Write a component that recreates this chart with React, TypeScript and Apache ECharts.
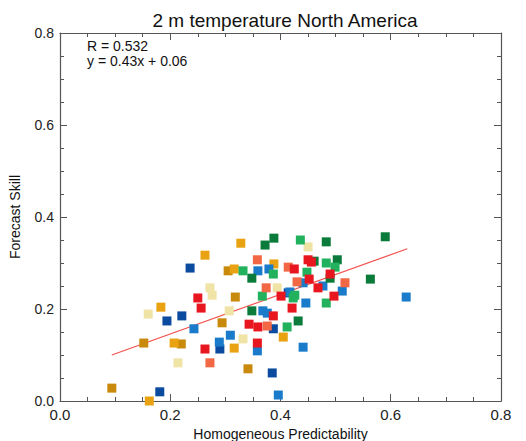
import React, { useEffect, useRef } from "react";
import * as echarts from "echarts";

const titleText = "2 m temperature North America";
const xName = "Homogeneous Predictability";
const yName = "Forecast Skill";
const statLines = ["R = 0.532", "y = 0.43x + 0.06"];

const orange = [[0.328,0.343],[0.263,0.317],[0.316,0.287],[0.183,0.204],[0.207,0.126],[0.316,0.115],[0.162,0.0],[0.388,0.298],[0.405,0.139]];
const darkGold = [[0.305,0.283],[0.318,0.226],[0.294,0.17],[0.152,0.126],[0.22,0.124],[0.094,0.028],[0.341,0.07]];
const cream = [[0.272,0.246],[0.276,0.23],[0.307,0.196],[0.16,0.189],[0.214,0.083],[0.45,0.335],[0.394,0.246],[0.332,0.135]];
const red = [[0.25,0.224],[0.256,0.202],[0.263,0.113],[0.425,0.287],[0.45,0.307],[0.456,0.302],[0.49,0.276],[0.452,0.265],[0.468,0.246],[0.401,0.228],[0.497,0.228],[0.421,0.202],[0.387,0.185],[0.343,0.167],[0.359,0.161],[0.358,0.126]];
const salmon = [[0.272,0.083],[0.358,0.307],[0.414,0.291],[0.43,0.259],[0.517,0.257],[0.374,0.246],[0.376,0.163]];
const darkGreen = [[0.372,0.339],[0.388,0.354],[0.483,0.346],[0.59,0.357],[0.348,0.267],[0.461,0.304],[0.503,0.307],[0.49,0.267],[0.563,0.265],[0.432,0.174],[0.348,0.196]];
const green = [[0.436,0.35],[0.332,0.283],[0.387,0.276],[0.483,0.3],[0.499,0.291],[0.448,0.28],[0.426,0.23],[0.367,0.228],[0.423,0.224],[0.483,0.213],[0.412,0.161]];
const darkBlue = [[0.236,0.289],[0.194,0.174],[0.221,0.185],[0.29,0.113],[0.181,0.02],[0.414,0.235],[0.387,0.157],[0.385,0.061]];
const blue = [[0.243,0.157],[0.309,0.143],[0.289,0.128],[0.359,0.283],[0.379,0.287],[0.441,0.257],[0.477,0.25],[0.417,0.237],[0.512,0.239],[0.446,0.213],[0.368,0.196],[0.376,0.191],[0.358,0.109],[0.441,0.117],[0.396,0.013],[0.628,0.226]];
const fitLine = [[0.094,0.1],[0.63,0.331]];

const groups: [number[][], string][] = [
  [cream, "#efe3a6"],
  [darkGold, "#c98a0c"],
  [orange, "#e9a312"],
  [darkBlue, "#0b4b9f"],
  [blue, "#1a7bca"],
  [darkGreen, "#0b7b3b"],
  [green, "#22b25e"],
  [salmon, "#f26744"],
  [red, "#e8161e"],
];

const FONT = "Liberation Sans, Arial, sans-serif";
const AX = "#555555";

function axisCommon(show: boolean, fontSize: number, margin: number) {
  return {
    type: "value" as const,
    min: 0,
    max: 0.8,
    interval: 0.2,
    axisLine: { show: true, onZero: false, lineStyle: { color: AX, width: 1.2 } },
    axisTick: { show: true, inside: true, length: 7, lineStyle: { color: AX } },
    minorTick: { show: true, splitNumber: 4, length: 4, lineStyle: { color: AX } },
    splitLine: { show: false },
    axisLabel: {
      show,
      color: "#222",
      fontSize,
      margin,
      fontFamily: FONT,
      formatter: (v: number) => v.toFixed(1),
    },
  };
}

export default function App() {
  const ref = useRef<HTMLDivElement>(null);
  useEffect(() => {
    if (!ref.current) return;
    const chart = echarts.init(ref.current, undefined, { renderer: "svg" });
    const series: any[] = groups.map(([d, c]) => ({
      type: "scatter",
      data: d,
      symbol: "rect",
      symbolSize: 9,
      itemStyle: { color: c, opacity: 1 },
      xAxisIndex: 0,
      yAxisIndex: 0,
    }));
    series.unshift({
      type: "line",
      data: fitLine,
      showSymbol: false,
      lineStyle: { color: "#f2524e", width: 1.2 },
      xAxisIndex: 0,
      yAxisIndex: 0,
      z: 1,
    });
    chart.setOption({
      animation: false,
      backgroundColor: "#ffffff",
      title: {
        text: titleText,
        left: 280,
        top: 6,
        textAlign: "center",
        textStyle: { fontSize: 19, fontWeight: "normal", color: "#111", fontFamily: FONT },
      },
      grid: { left: 60, right: 25, top: 33, bottom: 40, containLabel: false, outerBoundsMode: "none" },
      xAxis: [
        {
          ...axisCommon(true, 15, 6),
          position: "bottom",
          name: xName,
          nameLocation: "middle",
          nameGap: 22,
          nameTextStyle: { fontSize: 14, color: "#111", fontFamily: FONT },
        },
        { ...axisCommon(false, 15, 6), position: "top" },
      ],
      yAxis: [
        {
          ...axisCommon(true, 14, 6),
          position: "left",
          name: yName,
          nameLocation: "middle",
          nameGap: 38,
          nameTextStyle: { fontSize: 14, color: "#111", fontFamily: FONT },
        },
        { ...axisCommon(false, 14, 6), position: "right" },
      ],
      graphic: [
        {
          type: "text",
          left: 87,
          top: 38,
          style: {
            text: statLines.join("\n"),
            fontSize: 14,
            lineHeight: 15,
            fontFamily: FONT,
            fill: "#111",
          },
        },
      ],
      series,
    });
    return () => chart.dispose();
  }, []);
  return (
    <div
      ref={ref}
      style={{ position: "fixed", left: 0, top: 0, width: 526, height: 441 }}
    />
  );
}
